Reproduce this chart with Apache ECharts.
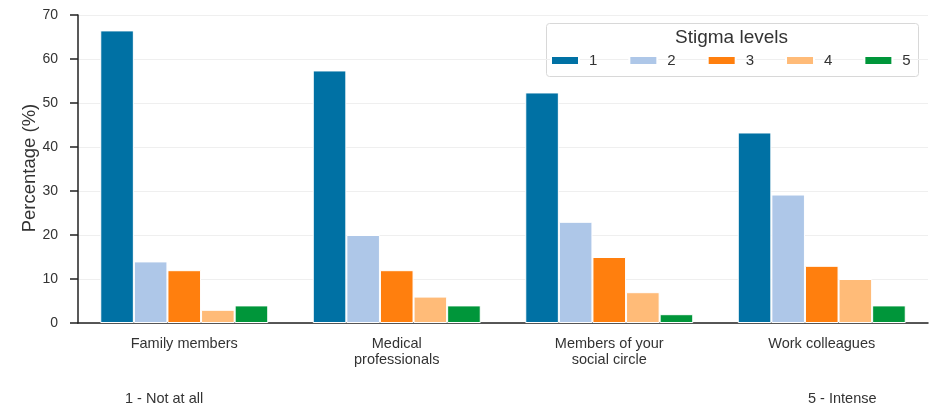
<!DOCTYPE html>
<html><head><meta charset="utf-8">
<script src="https://cdn.jsdelivr.net/npm/echarts@6/dist/echarts.min.js"></script>
<style>html,body{margin:0;padding:0;background:#fff}#c{width:933px;height:409px}</style>
</head><body><div id="c"></div>
<script>
const categories = ['Family members', 'Medical\nprofessionals', 'Members of your\nsocial circle', 'Work colleagues'];
const levels = ['1', '2', '3', '4', '5'];
const level1 = [66.5, 57.4, 52.4, 43.3];
const level2 = [14, 20, 23, 29.2];
const level3 = [12, 12, 15, 13];
const level4 = [3, 6, 7, 10];
const level5 = [4, 4, 2, 4];
const yTicks = [0, 10, 20, 30, 40, 50, 60, 70];
const colors = ['#0071a4', '#aec7e8', '#ff7f0e', '#ffbb78', '#00963a'];
const seriesValues = [level1, level2, level3, level4, level5];
const font = 'Liberation Sans, Arial, sans-serif';

const chart = echarts.init(document.getElementById('c'));
chart.setOption({
  animation: false,
  textStyle: {fontFamily: font},
  grid: {left: 78, right: 5, top: 15, bottom: 86},
  legend: {
    data: levels, left: 545, top: 48, itemWidth: 28, itemHeight: 9, itemGap: 31,
    icon: 'rect', textStyle: {fontSize: 15, color: '#333', fontFamily: font, padding: [0, 0, 0, 5]}
  },
  graphic: [
    {type: 'rect', left: 546, top: 23, shape: {width: 372, height: 53, r: 3},
     style: {fill: '#fff', stroke: '#d8d8d8', lineWidth: 1}, z: 0},
    {type: 'text', left: 675, top: 28,
     style: {text: 'Stigma levels', fontSize: 19, fill: '#333', fontFamily: font}, z: 1},
    {type: 'text', x: 30, y: 168, rotation: Math.PI / 2,
     style: {text: 'Percentage (%)', fontSize: 18.5, fill: '#333', fontFamily: font,
       textAlign: 'center', textVerticalAlign: 'middle'}},
    {type: 'text', left: 125, top: 391, style: {text: '1 - Not at all', fontSize: 14.5, fill: '#333', fontFamily: font}},
    {type: 'text', left: 808, top: 391, style: {text: '5 - Intense', fontSize: 14.5, fill: '#333', fontFamily: font}}
  ],
  xAxis: {
    type: 'category', data: categories,
    axisLine: {lineStyle: {color: '#222', width: 1.5}},
    axisTick: {alignWithLabel: true, length: 8, lineStyle: {color: '#222', width: 1.5}},
    axisLabel: {fontSize: 14.5, color: '#333', lineHeight: 16, margin: 13, fontFamily: font}
  },
  yAxis: {
    type: 'value', min: 0, max: 70, interval: 10,
    axisLine: {show: true, lineStyle: {color: '#222', width: 1.5}},
    axisTick: {show: true, length: 8, lineStyle: {color: '#222', width: 1.5}},
    axisLabel: {fontSize: 14, color: '#333', margin: 20, fontFamily: font,
      formatter: v => yTicks.includes(v) ? String(v) : ''},
    splitLine: {lineStyle: {color: '#efefef', width: 1}}
  },
  series: levels.map((name, i) => ({
    name, type: 'bar', data: seriesValues[i], barWidth: 33.6, barGap: '0%',
    itemStyle: {color: colors[i], borderColor: '#fff', borderWidth: 1}
  }))
});
</script></body></html>
